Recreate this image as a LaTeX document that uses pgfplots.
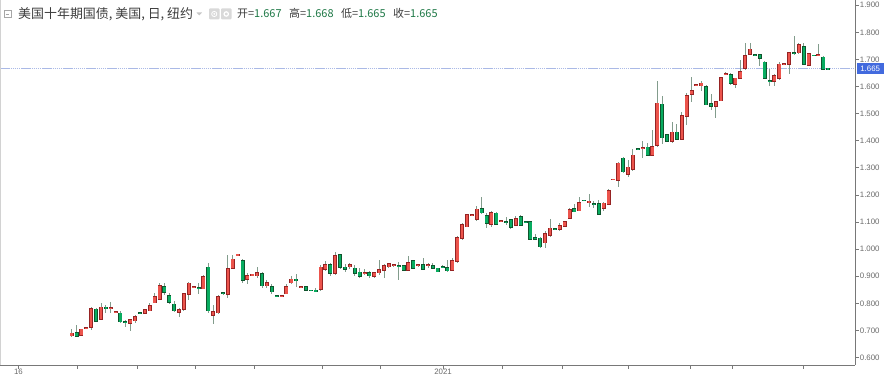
\documentclass[border=0pt]{standalone}
\usepackage{pgfplots}
\pgfplotsset{compat=1.18}
\usepackage{pgfplotstable}
\usepackage{fontspec}
\setmainfont{Liberation Sans}
\newfontfamily\cjk{Noto Sans CJK SC}
\definecolor{upfill}{RGB}{236,84,76}
\definecolor{upedge}{RGB}{150,35,35}
\definecolor{dnfill}{RGB}{8,172,96}
\definecolor{dnedge}{RGB}{15,85,45}
\definecolor{wick}{RGB}{130,156,140}
\definecolor{axgray}{RGB}{120,120,120}
\definecolor{lblgray}{RGB}{105,105,105}
\definecolor{pricebl}{RGB}{66,106,222}
\definecolor{priceln}{RGB}{170,185,230}
\definecolor{valgreen}{RGB}{30,120,70}
\definecolor{hdr}{RGB}{60,60,60}

\pgfplotstableread{
i o h l c
0 0.680 0.704 0.676 0.689
2 0.682 0.706 0.680 0.704
3 0.707 0.711 0.706 0.709
4 0.711 0.788 0.701 0.781
6 0.741 0.800 0.738 0.785
8 0.780 0.805 0.763 0.783
9 0.767 0.770 0.765 0.769
12 0.726 0.741 0.697 0.738
13 0.736 0.757 0.726 0.751
15 0.763 0.777 0.762 0.775
16 0.773 0.802 0.771 0.790
17 0.802 0.837 0.800 0.825
18 0.815 0.874 0.812 0.864
22 0.767 0.781 0.751 0.775
23 0.779 0.839 0.773 0.834
24 0.834 0.880 0.812 0.874
25 0.860 0.864 0.858 0.862
27 0.854 0.904 0.852 0.898
29 0.757 0.794 0.724 0.769
30 0.765 0.830 0.760 0.824
32 0.833 0.978 0.820 0.926
33 0.929 0.978 0.925 0.962
34 0.979 0.982 0.978 0.981
36 0.889 0.910 0.870 0.901
37 0.905 0.909 0.904 0.907
38 0.902 0.935 0.895 0.913
40 0.865 0.886 0.857 0.876
43 0.826 0.829 0.825 0.828
44 0.835 0.872 0.833 0.862
45 0.876 0.900 0.870 0.889
47 0.860 0.863 0.859 0.862
51 0.852 0.940 0.845 0.933
52 0.927 0.955 0.920 0.941
54 0.911 0.990 0.905 0.975
57 0.935 0.950 0.925 0.941
60 0.911 0.925 0.905 0.913
62 0.901 0.915 0.895 0.913
63 0.913 0.960 0.905 0.923
64 0.923 0.945 0.895 0.938
65 0.935 0.950 0.930 0.947
66 0.939 0.943 0.935 0.941
69 0.923 0.974 0.918 0.950
71 0.939 0.945 0.935 0.941
73 0.940 0.950 0.932 0.942
78 0.923 0.966 0.918 0.957
79 0.954 1.050 0.950 1.042
80 1.040 1.095 1.035 1.089
81 1.083 1.130 1.080 1.126
82 1.125 1.128 1.122 1.126
83 1.110 1.160 1.105 1.147
86 1.091 1.140 1.080 1.134
88 1.102 1.106 1.100 1.104
91 1.089 1.122 1.085 1.113
97 1.024 1.065 1.003 1.056
98 1.052 1.110 1.046 1.077
100 1.073 1.095 1.068 1.086
101 1.085 1.105 1.083 1.101
102 1.114 1.150 1.110 1.144
104 1.142 1.191 1.140 1.171
106 1.174 1.204 1.155 1.176
109 1.151 1.172 1.140 1.169
110 1.167 1.220 1.165 1.216
111 1.256 1.260 1.255 1.258
112 1.253 1.320 1.230 1.317
114 1.277 1.327 1.265 1.302
115 1.296 1.370 1.290 1.346
117 1.372 1.400 1.335 1.374
119 1.347 1.440 1.345 1.378
120 1.383 1.622 1.377 1.538
123 1.399 1.469 1.390 1.431
125 1.406 1.505 1.405 1.491
126 1.491 1.575 1.458 1.565
127 1.571 1.634 1.541 1.584
128 1.603 1.607 1.602 1.606
129 1.603 1.622 1.585 1.612
132 1.528 1.547 1.483 1.544
133 1.548 1.636 1.545 1.633
134 1.644 1.652 1.641 1.646
136 1.608 1.632 1.595 1.630
137 1.630 1.698 1.628 1.655
138 1.667 1.762 1.660 1.713
139 1.719 1.760 1.715 1.737
144 1.620 1.645 1.602 1.640
145 1.630 1.690 1.625 1.682
146 1.681 1.684 1.679 1.683
147 1.682 1.728 1.645 1.725
149 1.725 1.760 1.720 1.753
151 1.679 1.725 1.675 1.722
153 1.714 1.757 1.711 1.716
}\up

\pgfplotstableread{
i o h l c
1 0.692 0.720 0.676 0.679
5 0.778 0.783 0.730 0.733
7 0.785 0.794 0.765 0.781
10 0.763 0.772 0.726 0.732
11 0.732 0.738 0.711 0.730
14 0.766 0.768 0.763 0.765
19 0.861 0.874 0.831 0.840
20 0.829 0.837 0.797 0.805
21 0.796 0.810 0.768 0.773
26 0.857 0.876 0.833 0.854
28 0.933 0.948 0.765 0.773
31 0.838 0.842 0.832 0.837
35 0.956 0.962 0.875 0.886
39 0.908 0.917 0.858 0.865
41 0.861 0.870 0.835 0.843
42 0.828 0.830 0.826 0.827
46 0.889 0.908 0.860 0.884
48 0.861 0.865 0.845 0.847
49 0.848 0.850 0.845 0.847
50 0.848 0.856 0.844 0.845
53 0.941 0.948 0.900 0.911
55 0.978 0.982 0.925 0.933
56 0.933 0.945 0.915 0.925
58 0.929 0.940 0.900 0.911
59 0.914 0.930 0.895 0.901
61 0.913 0.920 0.895 0.902
67 0.939 0.954 0.886 0.938
68 0.938 0.942 0.918 0.923
70 0.956 0.960 0.925 0.929
72 0.943 0.966 0.922 0.925
74 0.938 0.948 0.925 0.929
75 0.929 0.932 0.915 0.917
76 0.936 0.940 0.930 0.935
77 0.932 0.958 0.915 0.920
84 1.150 1.191 1.130 1.134
85 1.122 1.132 1.077 1.095
87 1.132 1.137 1.088 1.091
89 1.102 1.118 1.090 1.101
90 1.107 1.110 1.075 1.080
92 1.120 1.124 1.085 1.089
93 1.102 1.104 1.095 1.101
94 1.100 1.104 1.035 1.037
95 1.043 1.055 1.034 1.036
96 1.040 1.045 1.003 1.009
99 1.074 1.078 1.070 1.073
103 1.149 1.167 1.137 1.138
105 1.180 1.182 1.177 1.179
107 1.168 1.176 1.150 1.166
108 1.167 1.183 1.128 1.130
113 1.335 1.340 1.280 1.286
116 1.371 1.373 1.369 1.370
118 1.376 1.392 1.345 1.347
121 1.534 1.565 1.388 1.411
122 1.421 1.425 1.399 1.399
124 1.431 1.463 1.405 1.405
130 1.600 1.605 1.532 1.533
131 1.536 1.572 1.513 1.528
135 1.643 1.648 1.605 1.612
140 1.717 1.720 1.714 1.716
141 1.716 1.718 1.676 1.704
142 1.689 1.695 1.628 1.630
143 1.622 1.663 1.602 1.621
148 1.723 1.786 1.718 1.722
150 1.747 1.762 1.680 1.682
152 1.715 1.718 1.712 1.714
154 1.708 1.712 1.660 1.663
155 1.667 1.668 1.665 1.665
}\dn

\pgfplotsset{
  candle/.style 2 args={mark=none, draw=none, forget plot,
    error bars/.cd, y dir=both, y explicit, error mark=none,
    error bar style={draw=#1, line width=#2, solid}},
}

\begin{document}
\begin{tikzpicture}[x=1bp,y=1bp]
\begin{axis}[
  name=ax,
  scale only axis, width=855bp, height=365bp,
  xmin=-14.69, xmax=160.5, ymin=0.5723, ymax=1.9192,
  axis x line*=bottom, axis y line*=right,
  axis line style={draw=axgray, line width=0.8bp},
  tick align=outside, major tick length=3.5bp,
  tick style={draw=axgray, line width=0.6bp},
  xtick={-10.9,1.09,13.4,25.3,37.4,51.3,63.2,76.1,88.2,100.5,114.0,126.7,135.3,150.0},
  xticklabels={16,,,,,,,2021,,,,,,},
  ytick={0.6,0.7,0.8,0.9,1.0,1.1,1.2,1.3,1.4,1.5,1.6,1.7,1.8,1.9},
  /pgf/number format/assume math mode=true,
  yticklabel style={/pgf/number format/fixed, /pgf/number format/fixed zerofill, /pgf/number format/precision=3, inner sep=1.2bp},
  xticklabel style={inner sep=0.8bp},
  tick label style={font=\fontsize{7.9}{9}\selectfont, text=lblgray},
  clip=true,
]
\addplot[draw=priceln, line width=0.8bp, dash pattern=on 1.5bp off 0.6bp, forget plot] coordinates {(-14.69,1.665) (160.5,1.665)};
% wicks
\addplot[candle={wick}{0.9bp}] table[x=i, y expr={(\thisrow{h}+\thisrow{l})/2}, y error expr={(\thisrow{h}-\thisrow{l})/2}] {\up};
\addplot[candle={wick}{0.9bp}] table[x=i, y expr={(\thisrow{h}+\thisrow{l})/2}, y error expr={(\thisrow{h}-\thisrow{l})/2}] {\dn};
% bodies
\addplot[candle={upedge}{4.0bp}] table[x=i, y expr={(\thisrow{o}+\thisrow{c})/2}, y error expr={abs(\thisrow{c}-\thisrow{o})/2+0.0025}] {\up};
\addplot[candle={upfill}{2.5bp}] table[x=i, y expr={(\thisrow{o}+\thisrow{c})/2}, y error expr={max(abs(\thisrow{c}-\thisrow{o})/2-0.0003,0)}] {\up};
\addplot[candle={dnedge}{4.0bp}] table[x=i, y expr={(\thisrow{o}+\thisrow{c})/2}, y error expr={abs(\thisrow{c}-\thisrow{o})/2+0.0025}] {\dn};
\addplot[candle={dnfill}{2.5bp}] table[x=i, y expr={(\thisrow{o}+\thisrow{c})/2}, y error expr={max(abs(\thisrow{c}-\thisrow{o})/2-0.0003,0)}] {\dn};
\coordinate (pl) at (axis cs:160.5,1.665);
\end{axis}
% left border
\draw[draw=gray!35, line width=0.8bp] ([xshift=0.4bp]ax.south west) -- ([xshift=0.4bp]ax.north west);
% price label
\node[fill=pricebl, text=white, anchor=west, inner sep=0pt, minimum width=27bp, minimum height=11bp, font=\fontsize{7.9}{9}\selectfont] at ([xshift=1.5bp]pl) {1.665};
% header (relative to top-left of the plot area)
\begin{scope}[shift={(ax.north west)}]
\draw[draw=gray!70, line width=0.6bp] (4,-17.5) rectangle (11,-10.5);
\draw[draw=gray!70, line width=0.6bp] (5.6,-14) -- (9.4,-14);
\node[anchor=base west, inner sep=0pt, text=hdr, font=\cjk\fontsize{13}{15}\selectfont] at (18,-18.3) {美国十年期国债, 美国, 日, 纽约};
\fill[gray!45] (196.5,-12.5) -- (202,-12.5) -- (199.25,-15.5) -- cycle;
\fill[gray!30, rounded corners=1bp] (209,-19.5) rectangle (219.5,-8.5);
\fill[gray!30, rounded corners=1bp] (221,-19.5) rectangle (231.5,-8.5);
\draw[white, line width=0.8bp] (214.25,-14) circle (2.6bp);
\fill[white] (214.25,-14) circle (1bp);
\draw[white, line width=1.2bp] (226.25,-14) circle (2.2bp);
\node[anchor=base west, inner sep=0pt, text=hdr, font=\cjk\fontsize{11}{13}\selectfont] at (237,-18) {开={\color{valgreen}1.667}};
\node[anchor=base west, inner sep=0pt, text=hdr, font=\cjk\fontsize{11}{13}\selectfont] at (289,-18) {高={\color{valgreen}1.668}};
\node[anchor=base west, inner sep=0pt, text=hdr, font=\cjk\fontsize{11}{13}\selectfont] at (341,-18) {低={\color{valgreen}1.665}};
\node[anchor=base west, inner sep=0pt, text=hdr, font=\cjk\fontsize{11}{13}\selectfont] at (393,-18) {收={\color{valgreen}1.665}};
\end{scope}
\pgfresetboundingbox
\useasboundingbox ([yshift=-12bp]ax.south west) rectangle ([xshift=30bp]ax.north east);
\end{tikzpicture}
\end{document}
